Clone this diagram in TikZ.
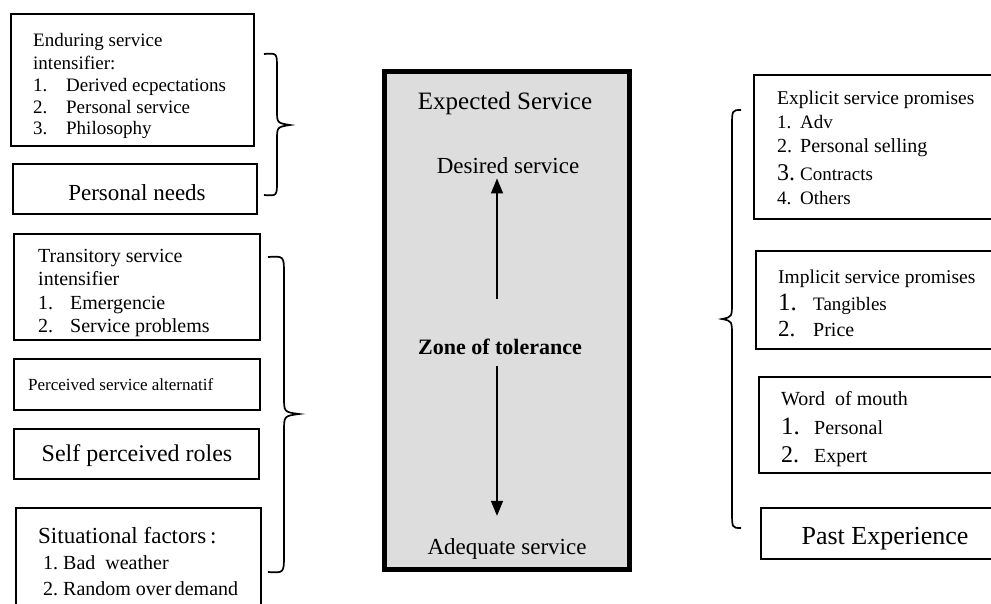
\documentclass[tikz,border=0pt]{standalone}
\usepackage{fontspec}
\setmainfont{Liberation Serif}
\usetikzlibrary{arrows.meta}

% font size with matching baseline skip
\newcommand\fsz[1]{\fontsize{#1}{#1}\selectfont}

\begin{document}
\begin{tikzpicture}[x=1pt,y=-1pt,
  box/.style={draw, line width=1.8pt, anchor=north west, inner sep=0pt},
  txt/.style={anchor=base west, inner sep=0pt},
  ctxt/.style={anchor=base, inner sep=0pt},
  brc/.style={line width=1.7pt},
  arr/.style={line width=1.4pt, -{Triangle[width=12pt,length=15pt]}}]
\useasboundingbox (0,0) rectangle (991,603);
\clip (0,0) rectangle (991,603);

% ---------- left column ----------
\node[box, minimum width=243pt, minimum height=132pt] (b1) at (10,13) {};
\node[txt, font=\fsz{19}] (b1a) at (33,46) {Enduring service};
\node[txt, font=\fsz{19}] (b1b) at (33,69) {intensifier:};
\node[txt, font=\fsz{19}] (b1c) at (33,91) {\makebox[33pt][l]{1.}Derived ecpectations};
\node[txt, font=\fsz{19}] (b1d) at (33,113) {\makebox[33pt][l]{2.}Personal service};
\node[txt, font=\fsz{19}] (b1e) at (33,134) {\makebox[33pt][l]{3.}Philosophy};

\node[box, minimum width=244pt, minimum height=50pt] (pn) at (12,163) {};
\node[ctxt, font=\fsz{23}] (pnt) at (137,200) {Personal\ needs};

\node[box, minimum width=246pt, minimum height=106pt] (tr) at (13,233) {};
\node[txt, font=\fsz{20}] (tra) at (38,262) {Transitory service};
\node[txt, font=\fsz{20}] (trb) at (38,285) {intensifier};
\node[txt, font=\fsz{20}] (trc) at (38,309) {\makebox[32pt][l]{1.}Emergencie};
\node[txt, font=\fsz{20}] (trd) at (38,332) {\makebox[32pt][l]{2.}Service\ problems};

\node[box, minimum width=246pt, minimum height=51pt] (ps) at (13,358) {};
\node[txt, font=\fsz{17}] (pst) at (28,390) {Perceived service alternatif};

\node[box, minimum width=245pt, minimum height=50pt] (sp) at (13,428) {};
\node[ctxt, font=\fsz{24}] (spt) at (137,461) {Self perceived roles};

\node[box, minimum width=245pt, minimum height=130pt] (sf) at (15,507) {};
\node[txt, font=\fsz{23}] (sfa) at (38,543) {Situational\ factors\,:};
\node[txt, font=\fsz{20}] (sfb) at (43,569) {1.\ Bad\ \ weather};
\node[txt, font=\fsz{20}] (sfc) at (43,595) {2.\ Random over\,demand};

% braces on the left
\draw[brc] (264,54) .. controls (277,53) .. (277,68) -- (277,110)
  .. controls (277,123) .. (290,125) .. controls (277,127) .. (277,140)
  -- (277,181) .. controls (277,196) .. (264,195);
\draw[brc] (268,257) .. controls (284,256) .. (284,274) -- (284,397)
  .. controls (284,412) .. (299,414) .. controls (284,416) .. (284,431)
  -- (284,555) .. controls (284,573) .. (268,572);

% ---------- central box ----------
\node[box, line width=4.5pt, fill={rgb,255:red,221;green,221;blue,221},
  minimum width=245pt, minimum height=498pt] (cb) at (382,69) {};
\node[ctxt, font=\fsz{25}] (exp) at (505,109) {Expected Service};
\node[ctxt, font=\fsz{23}] (des) at (508,173) {Desired service};
\node[ctxt, font=\fsz{22}\bfseries] (zone) at (500,354) {Zone of tolerance};
\node[ctxt, font=\fsz{23}] (adq) at (507,554) {Adequate service};
\coordinate (ax) at (497,0);
\draw[arr, shorten <=39pt, shorten >=5pt] (zone.north -| ax) -- (des.south -| ax);
\draw[arr, shorten <=12pt, shorten >=22pt] (zone.south -| ax) -- (adq.north -| ax);

% ---------- right column ----------
\draw[brc] (741,110) .. controls (732,110) .. (732,127) -- (732,302)
  .. controls (732,317) .. (722,319) .. controls (732,321) .. (732,336)
  -- (732,511) .. controls (732,528) .. (741,528);

\node[box, minimum width=260pt, minimum height=144pt] (ex) at (753,74) {};
\node[txt, font=\fsz{19.5}] (exa) at (777,104) {Explicit service promises};
\node[txt, font=\fsz{19}] (exb) at (777,128) {\makebox[23pt][l]{1.}Adv};
\node[txt, font=\fsz{20}] (exc) at (777,152) {\makebox[23pt][l]{2.}Personal selling};
\node[txt, font=\fsz{19}] (exd) at (777,180) {\makebox[23pt][l]{\fsz{24}3.}Contracts};
\node[txt, font=\fsz{19}] (exe) at (777,204) {\makebox[23pt][l]{4.}Others};

\node[box, minimum width=260pt, minimum height=98pt] (im) at (755,250) {};
\node[txt, font=\fsz{19.5}] (ima) at (778,283) {Implicit service promises};
\node[txt, font=\fsz{19}] (imb) at (778,310) {\makebox[35pt][l]{\fsz{25}1.}Tangibles};
\node[txt, font=\fsz{20}] (imc) at (778,336) {\makebox[35pt][l]{\fsz{23}2.}Price};

\node[box, minimum width=260pt, minimum height=96pt] (wm) at (758,376) {};
\node[txt, font=\fsz{20}] (wma) at (781,405) {Word\ \ of mouth};
\node[txt, font=\fsz{20}] (wmb) at (781,434) {\makebox[33pt][l]{\fsz{25}1.}Personal};
\node[txt, font=\fsz{20}] (wmc) at (781,462) {\makebox[33pt][l]{\fsz{24}2.}Expert};

\node[box, minimum width=260pt, minimum height=51pt] (pe) at (760,507) {};
\node[ctxt, font=\fsz{26}] (pet) at (885,544) {Past Experience};
\end{tikzpicture}
\end{document}
